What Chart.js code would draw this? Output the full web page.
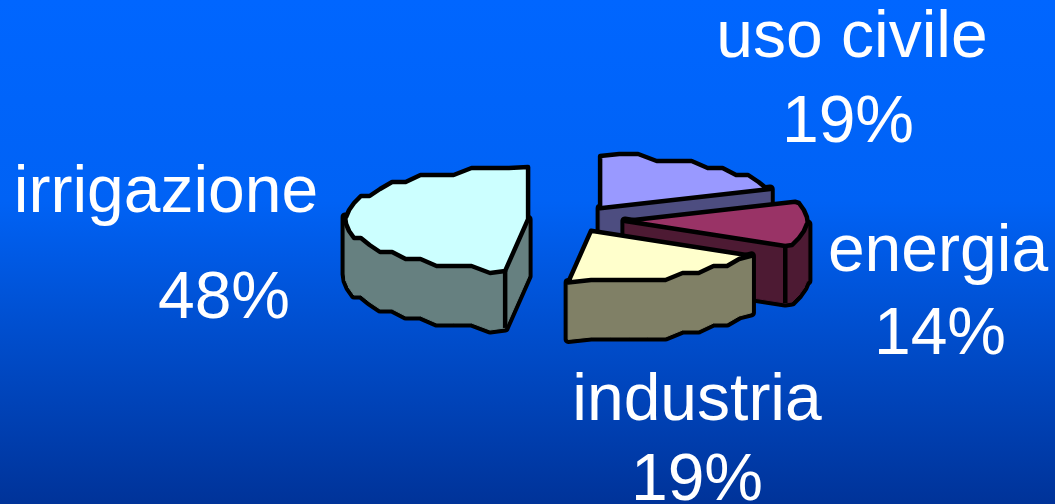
<!DOCTYPE html>
<html>
<head>
<meta charset="utf-8">
<title>Usi dell'acqua</title>
<script src="https://cdn.jsdelivr.net/npm/chart.js@4/dist/chart.umd.min.js"></script>
<style>
    html, body { margin: 0; padding: 0; width: 1055px; height: 504px; overflow: hidden; }
    body { background: linear-gradient(to bottom, #0066ff 0%, #0062f5 40%, #003399 100%); }
    #wrap { position: absolute; left: 0; top: 0; width: 1055px; height: 504px; }
</style>
</head>
<body>
<div id="wrap"><canvas id="pieChart"></canvas></div>
<script>
const categories = ['uso civile', 'energia', 'industria', 'irrigazione'];
const percentages = [19, 14, 19, 48];

const explode = [50, 53, 42, 44];
const topColors = ['#9999ff', '#993366', '#ffffcc', '#ccffff'];
const wallColors = ['#4d4d80', '#4d1a33', '#808066', '#668080'];

// center of each text block, then baselines of the name and the percentage
const labelX = [[852, 848], [938, 940], [697, 697], [166, 224]];
const labelY = [[57, 142], [271, 354], [420, 500], [212, 318]];

const tilt = 0.285;
const depth = 57;
const gridY = 7;
const outline = 4.5;

// top face of one slice, as a coarse polygon the way old metafile pies come out
function slicePoints(arc) {
    const { x, y, startAngle, endAngle, outerRadius } = arc;
    const mid = (startAngle + endAngle) / 2;
    const off = arc.options.offset;
    const cx = x + Math.cos(mid) * off;
    const cy = y + Math.sin(mid) * off * tilt;
    const at = a => [cx + Math.cos(a) * outerRadius, cy + Math.sin(a) * outerRadius * tilt];

    const pts = [[cx, cy], at(startAngle)];
    const step = Math.PI / 30;
    const first = Math.ceil(startAngle / step + 0.3) * step;
    for (let a = first; a < endAngle - step * 0.3; a += step) {
        const p = at(a);
        pts.push([p[0], Math.round(p[1] / gridY) * gridY]);
    }
    pts.push(at(endAngle));
    return pts;
}

function tracePolygon(ctx, pts) {
    pts.forEach((p, i) => i ? ctx.lineTo(p[0], p[1]) : ctx.moveTo(p[0], p[1]));
    ctx.closePath();
}

function drawSlice(ctx, arc, i) {
    const pts = slicePoints(arc);
    const n = pts.length;
    const walls = [];
    for (let k = 0; k < n; k++) {
        const a = pts[k];
        const b = pts[(k + 1) % n];
        // points run clockwise on screen, so an edge going left faces the viewer
        if (b[0] < a[0]) walls.push([a, b, [b[0], b[1] + depth], [a[0], a[1] + depth]]);
    }

    ctx.lineJoin = 'round';
    ctx.beginPath();
    walls.forEach(q => tracePolygon(ctx, q));
    ctx.strokeStyle = '#000';
    ctx.lineWidth = outline * 2;
    ctx.stroke();
    ctx.strokeStyle = wallColors[i];
    ctx.lineWidth = 1;
    ctx.stroke();
    ctx.fillStyle = wallColors[i];
    ctx.fill();

    // ridge where the cut face meets the rim
    ctx.strokeStyle = '#000';
    ctx.lineWidth = outline;
    [0, 1, n - 1].forEach(k => {
        const prev = pts[(k + n - 1) % n];
        const cur = pts[k];
        const next = pts[(k + 1) % n];
        if (cur[0] < prev[0] && next[0] < cur[0]) {
            ctx.beginPath();
            ctx.moveTo(cur[0], cur[1]);
            ctx.lineTo(cur[0], cur[1] + depth);
            ctx.stroke();
        }
    });

    ctx.beginPath();
    tracePolygon(ctx, pts);
    ctx.fillStyle = topColors[i];
    ctx.fill();
    ctx.stroke();
}

const pie3d = {
    id: 'pie3d',
    beforeDatasetDraw(chart, args) {
        const ctx = chart.ctx;
        ctx.save();
        args.meta.data.forEach((arc, i) => drawSlice(ctx, arc, i));
        ctx.restore();
        return false;
    },
    afterDraw(chart) {
        const ctx = chart.ctx;
        ctx.save();
        ctx.fillStyle = '#fff';
        ctx.font = '66px "Liberation Sans", Arial, sans-serif';
        ctx.textAlign = 'center';
        ctx.textBaseline = 'alphabetic';
        categories.forEach((name, i) => {
            ctx.fillText(name, labelX[i][0], labelY[i][0]);
            ctx.fillText(percentages[i] + '%', labelX[i][1], labelY[i][1]);
        });
        ctx.restore();
    }
};

new Chart(document.getElementById('pieChart'), {
    type: 'pie',
    data: {
        labels: categories,
        datasets: [{
            data: percentages,
            offset: explode,
            backgroundColor: topColors,
            borderWidth: 0
        }]
    },
    options: {
        responsive: true,
        maintainAspectRatio: false,
        animation: false,
        rotation: 0,
        radius: 183,
        layout: { padding: { left: 89, right: 0, top: 0, bottom: 64 } },
        plugins: {
            legend: { display: false },
            tooltip: { enabled: false }
        }
    },
    plugins: [pie3d]
});
</script>
</body>
</html>
